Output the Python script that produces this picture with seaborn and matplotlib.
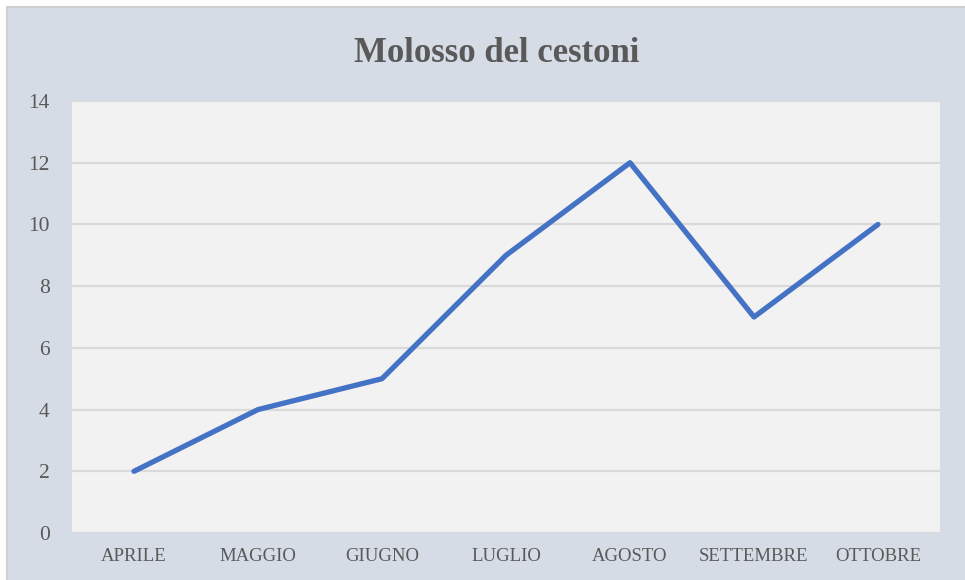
import pandas as pd
import matplotlib
matplotlib.use("Agg")
import matplotlib.pyplot as plt
import seaborn as sns
from matplotlib.patches import Rectangle

# Dati del grafico
mesi = ['APRILE', 'MAGGIO', 'GIUGNO', 'LUGLIO', 'AGOSTO', 'SETTEMBRE', 'OTTOBRE']
valori = [2, 4, 5, 9, 12, 7, 10]
titolo = 'Molosso del cestoni'

df = pd.DataFrame({'Mese': mesi, 'Valore': valori})

sns.set_style('white')
plt.rcParams['font.family'] = ['Liberation Serif', 'DejaVu Serif']

colore_testo = '#595959'
sfondo_esterno = '#D6DCE5'
sfondo_area = '#F2F2F2'

fig = plt.figure(figsize=(9.65, 5.8), dpi=100, facecolor='white')
# cornice esterna (bordo grigio su sinistra e in alto)
fig.patches.append(Rectangle((7 / 965, -0.01), 1.0, 1 - 7 / 580 + 0.01,
                             transform=fig.transFigure, facecolor=sfondo_esterno,
                             edgecolor='#D0D0D0', linewidth=1.5, zorder=-5))

ax = fig.add_axes([72 / 965, 1 - 533 / 580, (940 - 72) / 965, (533 - 101) / 580])
ax.set_facecolor(sfondo_area)

x = list(range(len(mesi)))
sns.lineplot(x=x, y=df['Valore'], ax=ax, color='#4472C4', linewidth=3.8,
             solid_capstyle='round', solid_joinstyle='round', sort=False, zorder=3)

ax.set_xlim(-0.5, len(mesi) - 0.5)
ax.set_ylim(0, 14)
ax.set_yticks(range(0, 15, 2))
ax.set_xticks(x)
ax.set_xticklabels(mesi)
ax.grid(axis='y', color='#D9D9D9', linewidth=1.6, zorder=1)
ax.set_axisbelow(True)
for s in ax.spines.values():
    s.set_visible(False)

ax.tick_params(axis='y', labelsize=15.5, labelcolor=colore_testo, length=0, pad=16)
ax.tick_params(axis='x', labelsize=13.5, labelcolor=colore_testo, length=0, pad=11)
ax.set_xlabel('')
ax.set_ylabel('')

fig.text(0.515, 1 - 53 / 580, titolo, ha='center', va='center', fontsize=25,
         fontweight='bold', color=colore_testo)

fig.savefig('out.png', dpi=100, facecolor=fig.get_facecolor())
